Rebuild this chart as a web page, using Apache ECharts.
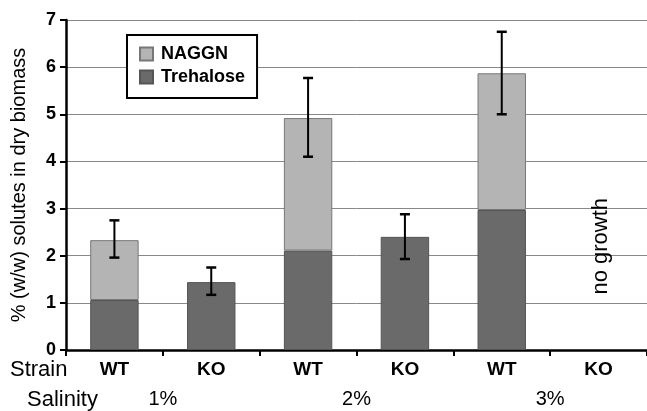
<!DOCTYPE html>
<html>
<head>
<meta charset="utf-8">
<script src="https://cdn.jsdelivr.net/npm/echarts@6/dist/echarts.min.js"></script>
<style>html,body{margin:0;padding:0;background:#fff;}#c{width:647px;height:411px;}</style>
</head>
<body>
<div id="c"></div>
<script>
const categories = ['WT', 'KO', 'WT', 'KO', 'WT', 'KO'];
const salinity = ['1%', '2%', '3%'];
const trehalose = [1.06, 1.44, 2.11, 2.40, 2.97, null];
const naggn = [1.27, null, 2.81, null, 2.90, null];
const errLow = [1.96, 1.17, 4.10, 1.93, 5.00, null];
const errHigh = [2.75, 1.75, 5.77, 2.88, 6.75, null];
const yMin = 0, yMax = 7, yStep = 1;

const font = '"Liberation Sans", Arial, sans-serif';
const chart = echarts.init(document.getElementById('c'));

const errData = categories.map((c, i) => errLow[i] == null ? null : [i, errLow[i], errHigh[i]]).filter(d => d);

chart.setOption({
  animation: false,
  backgroundColor: '#fff',
  textStyle: { fontFamily: font },
  grid: { left: 66, right: 0, top: 20, bottom: 61, containLabel: false },
  legend: {
    data: ['NAGGN', 'Trehalose'],
    orient: 'vertical',
    left: 127, top: 35,
    padding: [10, 12, 12, 12],
    itemGap: 5,
    itemWidth: 13, itemHeight: 13,
    borderColor: '#000', borderWidth: 2,
    backgroundColor: '#fff',
    textStyle: { fontFamily: font, fontSize: 18, fontWeight: 'bold', color: '#000', padding: [0, 0, 0, 3] },
    icon: 'rect'
  },
  xAxis: [{
    type: 'category',
    data: categories,
    axisLine: { lineStyle: { color: '#000', width: 2.5 } },
    axisTick: { show: true, length: 6, lineStyle: { color: '#000', width: 2 } },
    axisLabel: { fontFamily: font, fontSize: 19, fontWeight: 'bold', color: '#000', margin: 10 }
  }, {
    type: 'category',
    data: salinity,
    position: 'bottom',
    offset: 27,
    axisLine: { show: false },
    axisTick: { show: false },
    axisLabel: { fontFamily: font, fontSize: 20, color: '#000', margin: 12 }
  }],
  yAxis: {
    type: 'value',
    min: yMin, max: yMax, interval: yStep,
    name: '% (w/w) solutes in dry biomass',
    nameLocation: 'middle',
    nameGap: 37,
    nameTextStyle: { fontFamily: font, fontSize: 20, color: '#000' },
    axisLine: { show: true, lineStyle: { color: '#000', width: 2.5 } },
    axisTick: { show: true, length: 6, lineStyle: { color: '#000', width: 2 } },
    axisLabel: { fontFamily: font, fontSize: 18, fontWeight: 'bold', color: '#000', margin: 10 },
    splitLine: { show: true, lineStyle: { color: '#888', width: 1 } }
  },
  series: [{
    name: 'Trehalose',
    type: 'bar',
    stack: 'total',
    data: trehalose,
    barWidth: '50%',
    itemStyle: { color: '#6a6a6a', borderColor: '#555', borderWidth: 1 }
  }, {
    name: 'NAGGN',
    type: 'bar',
    stack: 'total',
    data: naggn,
    barWidth: '50%',
    itemStyle: { color: '#b4b4b4', borderColor: '#777', borderWidth: 1 }
  }, {
    name: 'err',
    type: 'custom',
    data: errData,
    z: 10,
    renderItem: function (params, api) {
      const x = api.value(0);
      const lo = api.coord([x, api.value(1)]);
      const hi = api.coord([x, api.value(2)]);
      const hw = 5;
      return {
        type: 'group',
        children: [
          { type: 'line', shape: { x1: lo[0], y1: lo[1], x2: hi[0], y2: hi[1] }, style: { stroke: '#000', lineWidth: 2 } },
          { type: 'line', shape: { x1: lo[0] - hw, y1: lo[1], x2: lo[0] + hw, y2: lo[1] }, style: { stroke: '#000', lineWidth: 2.5 } },
          { type: 'line', shape: { x1: hi[0] - hw, y1: hi[1], x2: hi[0] + hw, y2: hi[1] }, style: { stroke: '#000', lineWidth: 2.5 } }
        ]
      };
    }
  }]
});

const ng = chart.convertToPixel({ xAxisIndex: 0, yAxisIndex: 0 }, [5, 2.2]);
chart.setOption({
  graphic: [
    { type: 'text', left: 10, top: 359, style: { text: 'Strain', font: '22px ' + font, fill: '#000' } },
    { type: 'text', left: 27, top: 389, style: { text: 'Salinity', font: '22px ' + font, fill: '#000' } },
    { type: 'text', x: ng[0] + 2, y: ng[1], rotation: Math.PI / 2,
      style: { text: 'no growth', font: '22px ' + font, fill: '#000', align: 'center', verticalAlign: 'middle' } }
  ]
});
</script>
</body>
</html>
